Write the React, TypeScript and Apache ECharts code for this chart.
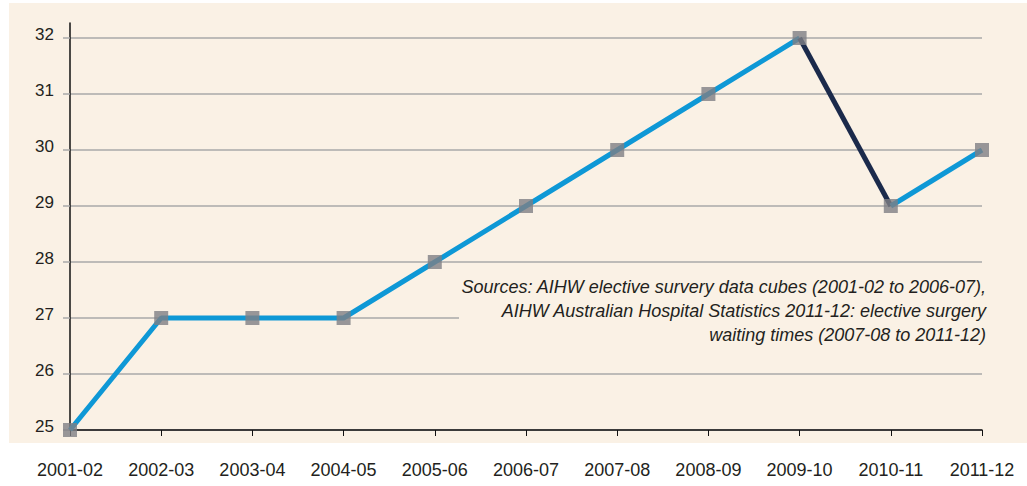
import React, { useEffect, useRef } from "react";
import * as echarts from "echarts";

const categories = ["2001-02", "2002-03", "2003-04", "2004-05", "2005-06", "2006-07", "2007-08", "2008-09", "2009-10", "2010-11", "2011-12"];
const waitingDays = [25, 27, 27, 27, 28, 29, 30, 31, 32, 29, 30];
// index of the segment start drawn in dark navy (2009-10 -> 2010-11)
const highlightFrom = 8;
const yTicks = { min: 25, max: 32, interval: 1 };
const sourceLines = [
  "Sources: AIHW elective survery data cubes (2001-02 to 2006-07),",
  "AIHW Australian Hospital Statistics 2011-12: elective surgery",
  "waiting times (2007-08 to 2011-12)",
];

const FONT = "'Liberation Sans', Arial, sans-serif";
const BLUE = "#0e98d6";
const NAVY = "#1b2a4b";
const BEIGE = "#faf1e5";

export default function App() {
  const ref = useRef<HTMLDivElement>(null);
  useEffect(() => {
    if (!ref.current) return;
    const chart = echarts.init(ref.current, undefined, { renderer: "svg" });
    const before = waitingDays.map((v, i) => (i <= highlightFrom ? v : "-"));
    const mid = waitingDays.map((v, i) => (i === highlightFrom || i === highlightFrom + 1 ? v : "-"));
    const after = waitingDays.map((v, i) => (i >= highlightFrom + 1 ? v : "-"));
    chart.setOption({
      animation: false,
      backgroundColor: "transparent",
      textStyle: { fontFamily: FONT },
      grid: [
        { left: 70, right: 45, top: 38, bottom: 56 },
        { left: 70, right: 45, top: 23, bottom: 56 },
      ],
      xAxis: [
        {
          type: "category",
          gridIndex: 0,
          data: categories,
          boundaryGap: false,
          axisLine: { lineStyle: { color: "#111", width: 1.5 } },
          axisTick: { show: true, length: 6, lineStyle: { color: "#111", width: 1 } },
          axisLabel: { color: "#231f20", fontSize: 18, fontFamily: FONT, margin: 31, interval: 0 },
        },
        { type: "category", gridIndex: 1, data: categories, show: false },
      ],
      yAxis: [
        {
          type: "value",
          gridIndex: 0,
          min: yTicks.min,
          max: yTicks.max,
          interval: yTicks.interval,
          axisLine: { show: false },
          axisTick: { show: true, length: 7, lineStyle: { color: "#a9a9a9", width: 1.5 } },
          axisLabel: {
            color: "#231f20",
            fontSize: 17,
            fontFamily: FONT,
            margin: 16,
            verticalAlign: "bottom",
            lineHeight: 8,
          },
          splitLine: { show: true, lineStyle: { color: "#a9a9a9", width: 1.5 } },
        },
        {
          type: "value",
          gridIndex: 1,
          min: 0,
          max: 1,
          axisLine: { show: true, lineStyle: { color: "#111", width: 1.5 } },
          axisTick: { show: false },
          axisLabel: { show: false },
          splitLine: { show: false },
        },
      ],
      graphic: [
        {
          type: "rect",
          x: 459,
          y: 298,
          shape: { x: 0, y: 0, width: 540, height: 50 },
          style: { fill: BEIGE },
          z: 10,
        },
        {
          type: "text",
          x: 986,
          y: 275,
          z: 11,
          style: {
            text: sourceLines.join("\n"),
            fontFamily: FONT,
            fontStyle: "italic",
            fontSize: 18,
            lineHeight: 24,
            fill: "#231f20",
            align: "right",
            textAlign: "right",
            verticalAlign: "top",
          },
        },
      ],
      series: [
        { type: "line", data: before, symbol: "none", lineStyle: { color: BLUE, width: 5 }, z: 20 },
        { type: "line", data: mid, symbol: "none", lineStyle: { color: NAVY, width: 5 }, z: 20 },
        { type: "line", data: after, symbol: "none", lineStyle: { color: BLUE, width: 5 }, z: 20 },
        {
          type: "scatter",
          data: waitingDays,
          symbol: "rect",
          symbolSize: 14,
          itemStyle: { color: "#808084" },
          z: 30,
        },
      ],
    });
    return () => chart.dispose();
  }, []);

  return (
    <div style={{ position: "absolute", left: 0, top: 0, width: 1027, height: 486, background: "#fff" }}>
      <div style={{ position: "absolute", left: 9, top: 3, width: 1018, height: 440, background: BEIGE }} />
      <div ref={ref} style={{ position: "absolute", left: 0, top: 0, width: 1027, height: 486 }} />
    </div>
  );
}
